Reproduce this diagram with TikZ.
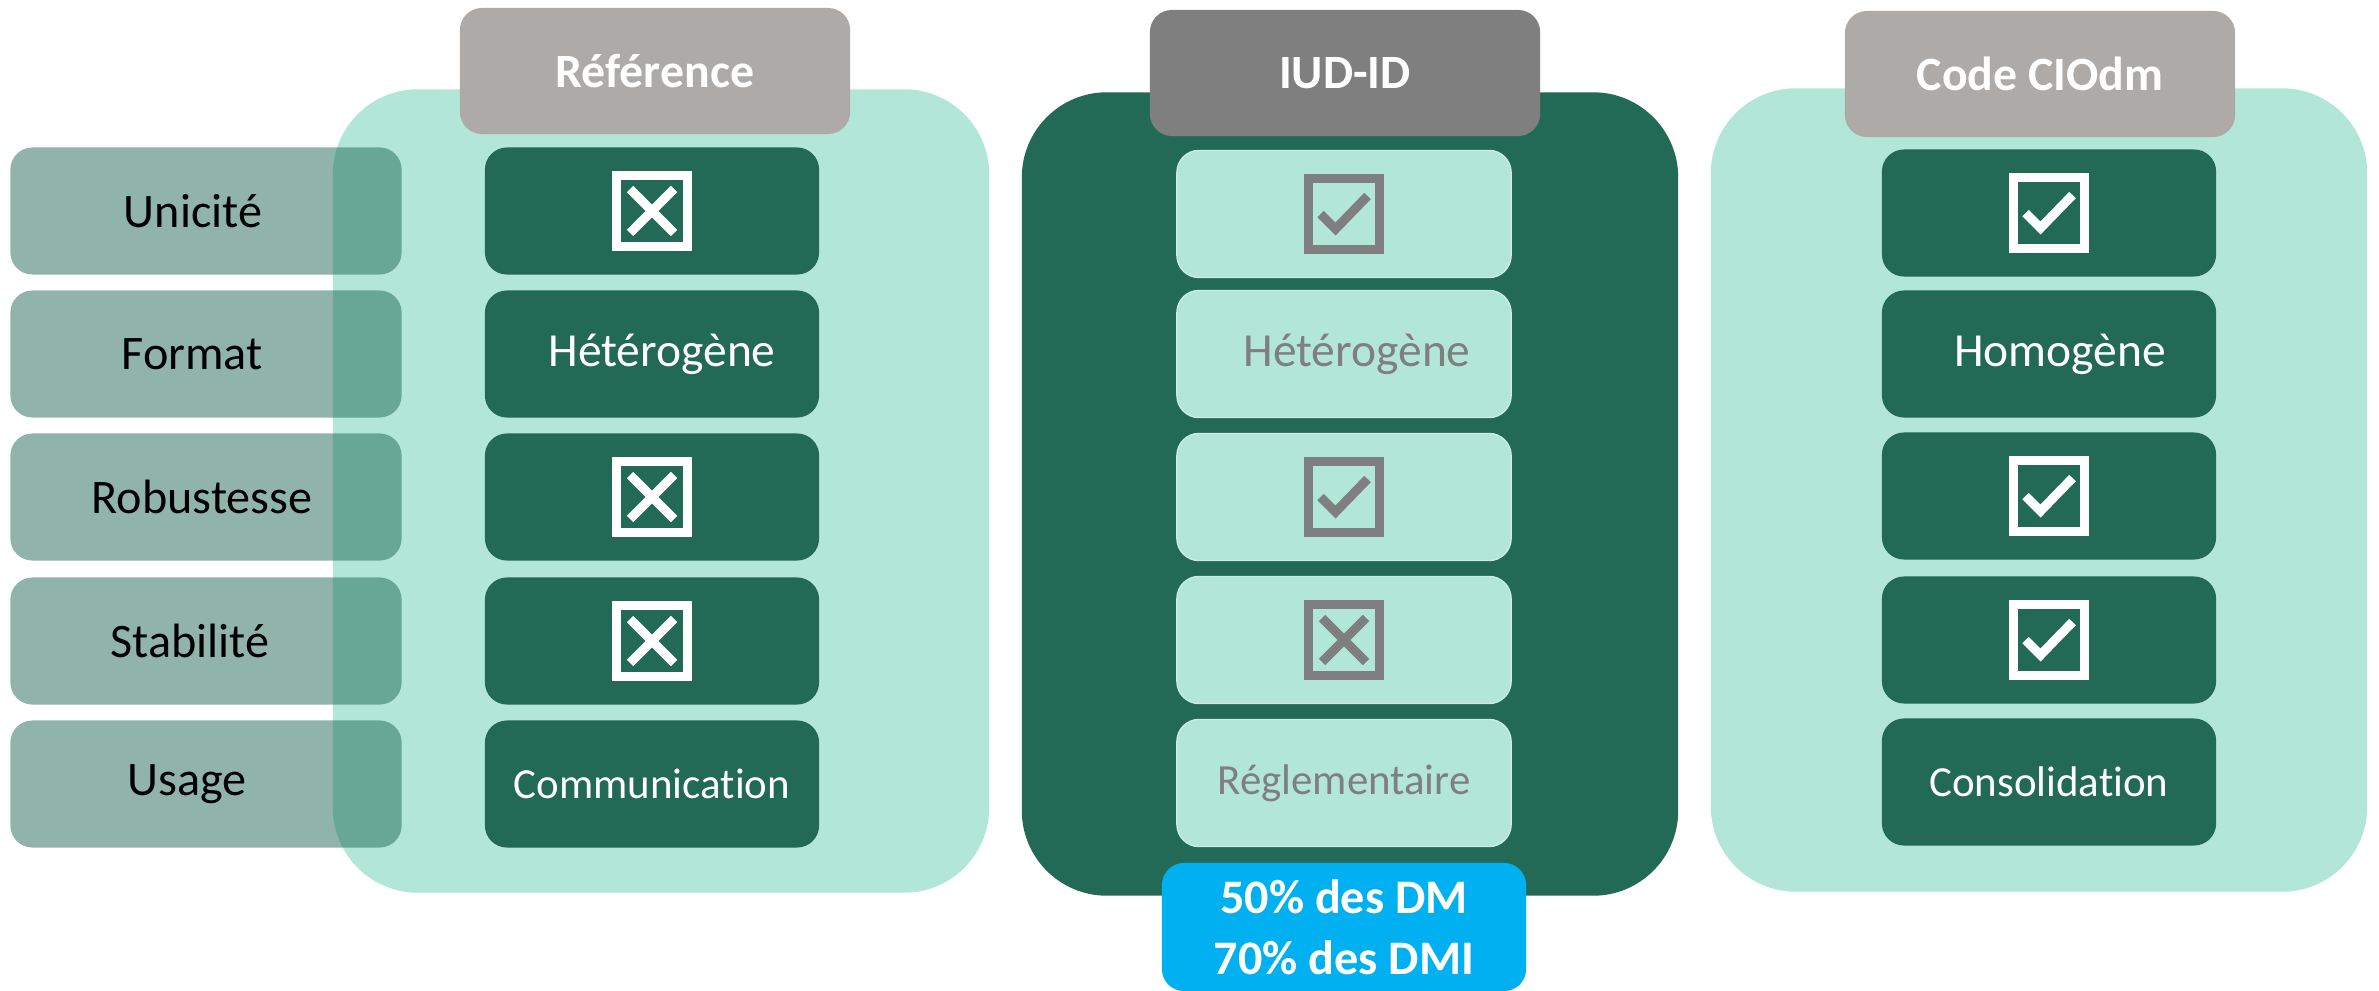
\documentclass[tikz,border=0pt]{standalone}
\usepackage{fontspec}
\setmainfont{Carlito}[Ligatures={NoCommon,NoContextual}]
\definecolor{mint}{HTML}{B2E6D6}
\definecolor{pine}{HTML}{226A56}
\definecolor{stone}{HTML}{AEAAA8}
\definecolor{slate}{HTML}{7F7F7F}
\definecolor{sky}{HTML}{00B0F0}
\tikzset{
  panel/.style={fill=#1, rounded corners=0.85cm, minimum width=6.56cm, minimum height=8.03cm},
  head/.style={fill=#1, rounded corners=0.22cm, minimum width=3.9cm, minimum height=1.26cm,
    text=white, font=\fontsize{13.6}{16}\selectfont\bfseries},
  crit/.style={fill=pine, fill opacity=0.5, text opacity=1, rounded corners=0.22cm,
    minimum width=3.91cm, minimum height=1.27cm, font=\fontsize{13.7}{16}\selectfont},
  cell/.style={fill=pine, rounded corners=0.22cm, minimum width=3.34cm, minimum height=1.27cm,
    text=white, font=\fontsize{12.2}{15}\selectfont},
  big/.style={font=\fontsize{13.5}{16}\selectfont},
  softcell/.style={cell, fill=mint, draw=mint!70!white, text=slate},
  xbox/.pic={
    \draw[line width=2.55pt] (-35.5,-35.5) rectangle (35.5,35.5);
    \draw[line width=2.6pt] (-22,-22) -- (22,22) (-22,22) -- (22,-22);
  },
  vbox/.pic={
    \draw[line width=2.55pt] (-35.5,-35.5) rectangle (35.5,35.5);
    \draw[line width=2.6pt] (-23.5,0) -- (-8.5,15) -- (23.5,-18);
  }
}
\begin{document}
\begin{tikzpicture}[x=0.01cm, y=-0.01cm]
  \useasboundingbox (0,0) rectangle (2379,991);
  % columns
  \node[panel=mint] (pr) at (661,491) {};
  \node[panel=pine] (pi) at (1350,494) {};
  \node[panel=mint] (pk) at (2039,490) {};
  % criteria
  \node[crit] (c1) at (206,211) {Unicité\kern0.26cm};
  \node[crit] (c2) at (206,354) {Format\kern0.28cm};
  \node[crit] (c3) at (206,497) {Robustesse\kern0.08cm};
  \node[crit] (c4) at (206,641) {Stabilité\kern0.32cm};
  \node[crit] (c5) at (206,784) {Usage\kern0.38cm};
  % headers
  \node[head=stone] (hr) at (655,71) {Référence};
  \node[head=slate] (hi) at (1345,73) {IUD-ID};
  \node[head=stone] (hk) at (2040,74) {Code CIOdm};
  % Référence
  \node[cell] (r1) at (652,211) {};
  \node[cell, big] (r2) at (652,354) {\kern0.2cm Hétérogène};
  \node[cell] (r3) at (652,497) {};
  \node[cell] (r4) at (652,641) {};
  \node[cell] (r5) at (652,784) {Communication};
  \pic[white] at (r1) {xbox};
  \pic[white] at (r3) {xbox};
  \pic[white] at (r4) {xbox};
  % IUD-ID
  \node[softcell] (i1) at (1344,214) {};
  \node[softcell, big] (i2) at (1344,354) {\kern0.26cm Hétérogène};
  \node[softcell] (i3) at (1344,497) {};
  \node[softcell] (i4) at (1344,640) {};
  \node[softcell] (i5) at (1344,783) {Réglementaire};
  \pic[slate] at (i1) {vbox};
  \pic[slate] at (i3) {vbox};
  \pic[slate] at (i4) {xbox};
  \node[fill=sky, rounded corners=0.22cm, minimum width=3.64cm, minimum height=1.28cm,
    text=white, align=center, font=\fontsize{13.7}{17.4}\selectfont\bfseries]
    (share) at (1344,927) {50\% des DM\\70\% des DMI};
  % Code CIOdm
  \node[cell] (k1) at (2049,213) {};
  \node[cell, big] (k2) at (2049,354) {\kern0.22cm\raisebox{-0.05cm}{Homogène}};
  \node[cell] (k3) at (2049,496) {};
  \node[cell] (k4) at (2049,640) {};
  \node[cell] (k5) at (2049,782) {Consolidation};
  \pic[white] at (k1) {vbox};
  \pic[white] at (k3) {vbox};
  \pic[white] at (k4) {vbox};
\end{tikzpicture}
\end{document}
